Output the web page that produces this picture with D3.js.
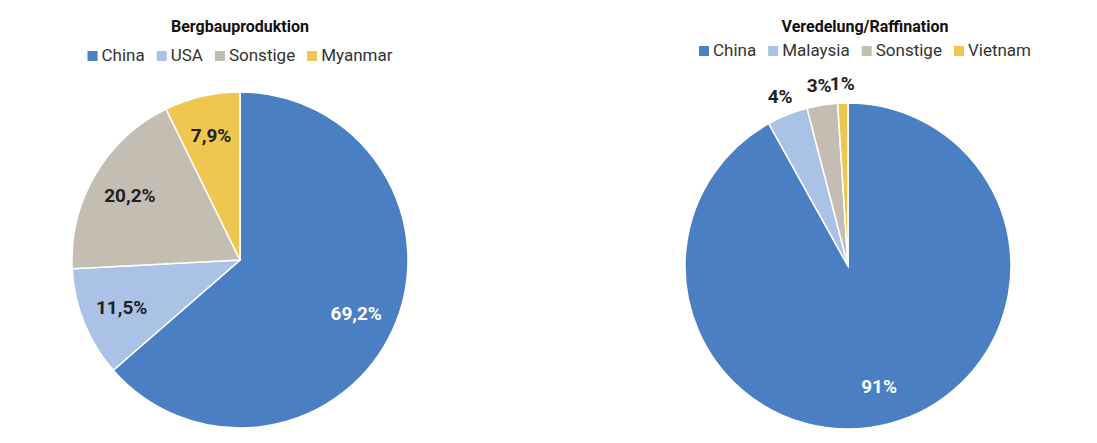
<!DOCTYPE html>
<html><head><meta charset="utf-8">
<script src="https://cdn.jsdelivr.net/npm/d3@7"></script>
<style>body{margin:0;background:#fff}text{font-family:Roboto,"DejaVu Sans",sans-serif}</style>
</head><body>
<svg id="c" width="1097" height="443"></svg>
<script>
var leftCats = ["China", "USA", "Sonstige", "Myanmar"]
var leftVals = [69.2, 11.5, 20.2, 7.9]
var leftLabels = ["69,2%", "11,5%", "20,2%", "7,9%"]
var rightCats = ["China", "Malaysia", "Sonstige", "Vietnam"]
var rightVals = [91, 4, 3, 1]
var rightLabels = ["91%", "4%", "3%", "1%"]
var colors = ["#4a7fc4", "#a9c2e5", "#c4bdb1", "#efc650"]

var svg = d3.select("#c")

var drawPie = function(o){
  var g = svg.append("g").attr("transform", "translate(" + o.cx + "," + o.cy + ")")
  var pie = d3.pie().sort(null)(o.vals)
  var arc = d3.arc().innerRadius(0).outerRadius(o.r)
  g.selectAll("path").data(pie).enter().append("path")
    .attr("d", arc).attr("fill", function(d, i){ return colors[i] })
    .attr("stroke", "#fff").attr("stroke-width", 1.5)
  g.selectAll("text.l").data(pie).enter().append("text")
    .attr("class", "l")
    .attr("transform", function(d, i){
      var rr = o.outside[i] ? o.r * 1.12 : o.r * 0.76
      return "translate(" + d3.arc().innerRadius(rr).outerRadius(rr).centroid(d) + ")"
    })
    .attr("text-anchor", "middle").attr("dy", "0.35em")
    .attr("font-size", 19).attr("font-weight", "bold")
    .attr("fill", function(d, i){ return i == 0 ? "#fff" : "#222" })
    .text(function(d, i){ return o.labels[i] })

  svg.append("text").attr("x", o.lx).attr("y", 32).attr("text-anchor", "middle")
    .attr("font-size", 16).attr("font-weight", "bold").attr("fill", "#111").text(o.title)

  var lg = svg.append("g")
  var x = 0
  var items = []
  o.cats.forEach(function(c, i){
    var it = lg.append("g").attr("transform", "translate(" + x + ",0)")
    it.append("rect").attr("x", 0).attr("y", -10).attr("width", 10).attr("height", 10).attr("fill", colors[i])
    var t = it.append("text").attr("x", 14).attr("y", 0).attr("font-size", 17).attr("fill", "#333").text(c)
    x += 14 + t.node().getComputedTextLength() + 12
  })
  lg.attr("transform", "translate(" + (o.lx - (x - 12) / 2) + "," + o.ly + ")")
}

drawPie({cx: 240, cy: 260, r: 168, vals: leftVals, labels: leftLabels, cats: leftCats,
  title: "Bergbauproduktion", lx: 240, ly: 61, outside: [false, false, false, false]})
drawPie({cx: 848, cy: 266, r: 163, vals: rightVals, labels: rightLabels, cats: rightCats,
  title: "Veredelung/Raffination", lx: 865, ly: 56, outside: [false, true, true, true]})
</script>
</body></html>
